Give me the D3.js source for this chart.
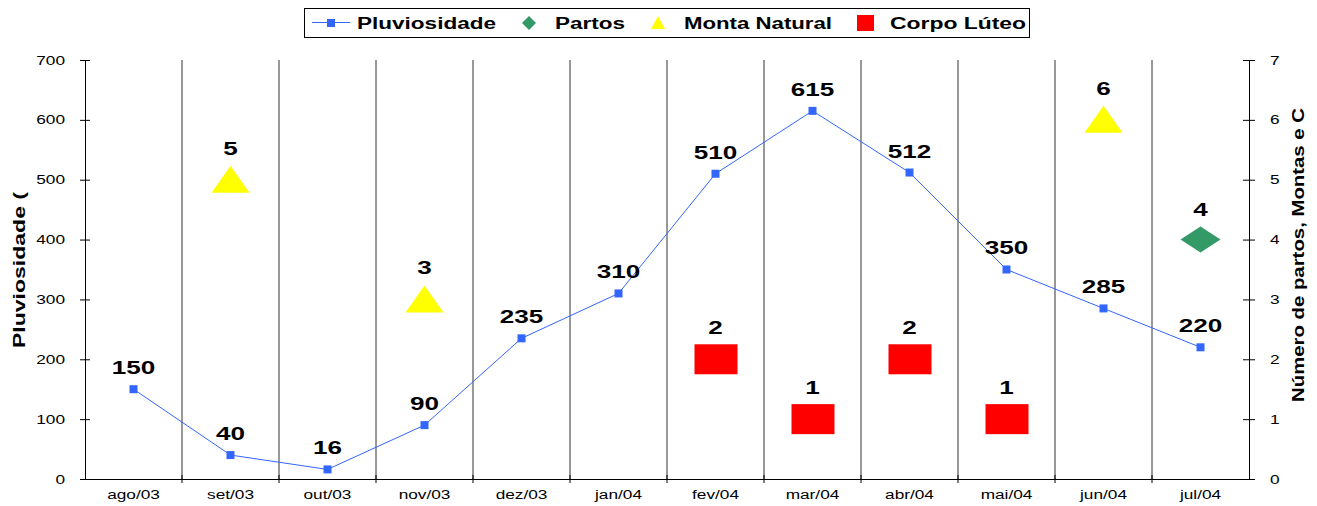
<!DOCTYPE html>
<html>
<head>
<meta charset="utf-8">
<script src="https://cdn.jsdelivr.net/npm/d3@7"></script>
<style>
body { margin: 0; background: #fff; }
text { font-family: Arial, "Liberation Sans", sans-serif; }
</style>
</head>
<body>
<script>
var width = 1317,
    height = 506;

var months = ["ago/03", "set/03", "out/03", "nov/03", "dez/03", "jan/04",
              "fev/04", "mar/04", "abr/04", "mai/04", "jun/04", "jul/04"];
var pluviosidade = [150, 40, 16, 90, 235, 310, 510, 615, 512, 350, 285, 220];
var partos = [{month: "jul/04", value: 4}];
var montaNatural = [{month: "set/03", value: 5}, {month: "nov/03", value: 3}, {month: "jun/04", value: 6}];
var corpoLuteo = [{month: "fev/04", value: 2}, {month: "mar/04", value: 1},
                  {month: "abr/04", value: 2}, {month: "mai/04", value: 1}];
var leftTicks = [0, 100, 200, 300, 400, 500, 600, 700];
var rightTicks = [0, 1, 2, 3, 4, 5, 6, 7];

var margin = {left: 85, right: 68, top: 60, bottom: 27};

var svg = d3.select("body").append("svg")
    .attr("width", width)
    .attr("height", height);

var x = d3.scaleBand()
    .domain(months)
    .range([margin.left, width - margin.right]);

var y = d3.scaleLinear()
    .domain([0, 700])
    .range([height - margin.bottom, margin.top]);

var y2 = d3.scaleLinear()
    .domain([0, 7])
    .range([height - margin.bottom, margin.top]);

var cx = function (m) { return x(m) + x.bandwidth() / 2; };

// the original text is drawn wide, so stretch it around its anchor
function stretch(sel, sx) {
  sel.each(function () {
    var t = d3.select(this);
    var tx = +t.attr("x") || 0;
    var ty = +t.attr("y") || 0;
    t.attr("transform", "translate(" + tx + "," + ty + ") scale(" + sx + ",1) translate(" + (-tx) + "," + (-ty) + ")");
  });
}

// vertical separators between months
svg.append("g")
  .selectAll("line")
  .data(months.slice(1))
  .enter().append("line")
    .attr("x1", function (m) { return x(m); })
    .attr("x2", function (m) { return x(m); })
    .attr("y1", margin.top)
    .attr("y2", height - margin.bottom)
    .attr("stroke", "#333")
    .attr("stroke-width", 1);

// axes
var leftAxis = svg.append("g")
    .attr("transform", "translate(" + margin.left + ",0)")
    .call(d3.axisLeft(y).tickValues(leftTicks).tickSizeInner(5).tickSizeOuter(0).tickPadding(15));
leftAxis.selectAll(".tick line").attr("x2", 5).attr("x1", -5);

var rightAxis = svg.append("g")
    .attr("transform", "translate(" + (width - margin.right) + ",0)")
    .call(d3.axisRight(y2).tickValues(rightTicks).tickFormat(d3.format("d"))
      .tickSizeInner(5).tickSizeOuter(0).tickPadding(16));
rightAxis.selectAll(".tick line").attr("x1", -6).attr("x2", 6);

var bottomAxis = svg.append("g")
    .attr("transform", "translate(0," + (height - margin.bottom) + ")")
    .call(d3.axisBottom(x).tickSize(0).tickPadding(11));

bottomAxis.selectAll(".boundary")
  .data(months.slice(1))
  .enter().append("line")
    .attr("x1", function (m) { return x(m); })
    .attr("x2", function (m) { return x(m); })
    .attr("y1", -4)
    .attr("y2", 4)
    .attr("stroke", "#000");

[leftAxis, rightAxis, bottomAxis].forEach(function (a) {
  a.select(".domain").attr("stroke", "#000");
  var t = a.selectAll("text").attr("font-size", 12.5).attr("fill", "#000")
    .attr("font-family", "Arial, 'Liberation Sans', sans-serif");
  stretch(t, 1.38);
});

// axis titles
svg.append("text")
    .attr("transform", "translate(25,270) rotate(-90)")
    .attr("text-anchor", "middle")
    .attr("font-size", 16)
    .attr("font-weight", "bold")
    .attr("textLength", 156)
    .attr("lengthAdjust", "spacingAndGlyphs")
    .text("Pluviosidade (");

svg.append("text")
    .attr("transform", "translate(1304,255) rotate(-90)")
    .attr("text-anchor", "middle")
    .attr("font-size", 16)
    .attr("font-weight", "bold")
    .attr("textLength", 294)
    .attr("lengthAdjust", "spacingAndGlyphs")
    .text("Número de partos, Montas e C");

// rainfall line
var line = d3.line()
    .x(function (d, i) { return cx(months[i]); })
    .y(function (d) { return y(d); });

svg.append("path")
    .datum(pluviosidade)
    .attr("d", line)
    .attr("fill", "none")
    .attr("stroke", "#3366ff")
    .attr("stroke-width", 1);

svg.append("g")
  .selectAll("rect")
  .data(pluviosidade)
  .enter().append("rect")
    .attr("x", function (d, i) { return cx(months[i]) - 4; })
    .attr("y", function (d) { return y(d) - 4; })
    .attr("width", 8)
    .attr("height", 8)
    .attr("fill", "#3366ff");

var pLabels = svg.append("g")
  .selectAll("text")
  .data(pluviosidade)
  .enter().append("text")
    .attr("x", function (d, i) { return cx(months[i]); })
    .attr("y", function (d) { return y(d) - 15; })
    .attr("text-anchor", "middle")
    .attr("font-size", 18)
    .attr("font-weight", "bold")
    .text(function (d) { return d; });
stretch(pLabels, 1.45);

function labels(data, offset) {
  var t = svg.append("g")
    .selectAll("text")
    .data(data)
    .enter().append("text")
      .attr("x", function (d) { return cx(d.month); })
      .attr("y", function (d) { return y2(d.value) - offset; })
      .attr("text-anchor", "middle")
      .attr("font-size", 18)
      .attr("font-weight", "bold")
      .text(function (d) { return d.value; });
  stretch(t, 1.45);
}

// markers on the right axis
svg.append("g")
  .selectAll("path")
  .data(montaNatural)
  .enter().append("path")
    .attr("d", "M0,-14L19,13L-19,13Z")
    .attr("transform", function (d) { return "translate(" + cx(d.month) + "," + y2(d.value) + ")"; })
    .attr("fill", "#ffff00");
labels(montaNatural, 25);

svg.append("g")
  .selectAll("rect")
  .data(corpoLuteo)
  .enter().append("rect")
    .attr("x", function (d) { return cx(d.month) - 21; })
    .attr("y", function (d) { return y2(d.value) - 15; })
    .attr("width", 43)
    .attr("height", 30)
    .attr("fill", "#ff0000");
labels(corpoLuteo, 25);

svg.append("g")
  .selectAll("path")
  .data(partos)
  .enter().append("path")
    .attr("d", "M0,-13L20,0L0,13L-20,0Z")
    .attr("transform", function (d) { return "translate(" + cx(d.month) + "," + y2(d.value) + ")"; })
    .attr("fill", "#339966");
labels(partos, 24);

// legend
var legend = svg.append("g");
legend.append("rect")
    .attr("x", 304.5).attr("y", 8.5)
    .attr("width", 725).attr("height", 29)
    .attr("fill", "#fff")
    .attr("stroke", "#000");

legend.append("line")
    .attr("x1", 312).attr("x2", 350).attr("y1", 22.5).attr("y2", 22.5)
    .attr("stroke", "#3366ff");
legend.append("rect")
    .attr("x", 327).attr("y", 19).attr("width", 8).attr("height", 8)
    .attr("fill", "#3366ff");
legend.append("path")
    .attr("d", "M529,16L536,23L529,30L522,23Z")
    .attr("fill", "#339966");
legend.append("path")
    .attr("d", "M658,16L665,29L651,29Z")
    .attr("fill", "#ffff00");
legend.append("rect")
    .attr("x", 857).attr("y", 15).attr("width", 17).attr("height", 16)
    .attr("fill", "#ff0000");

var legendItems = [["Pluviosidade", 357, 139], ["Partos", 555, 70],
                   ["Monta Natural", 684, 148], ["Corpo Lúteo", 890, 136]];
legend.selectAll(".lt")
  .data(legendItems)
  .enter().append("text")
    .attr("x", function (d) { return d[1]; })
    .attr("y", 29)
    .attr("font-size", 16)
    .attr("font-weight", "bold")
    .attr("textLength", function (d) { return d[2]; })
    .attr("lengthAdjust", "spacingAndGlyphs")
    .text(function (d) { return d[0]; });
</script>
</body>
</html>
